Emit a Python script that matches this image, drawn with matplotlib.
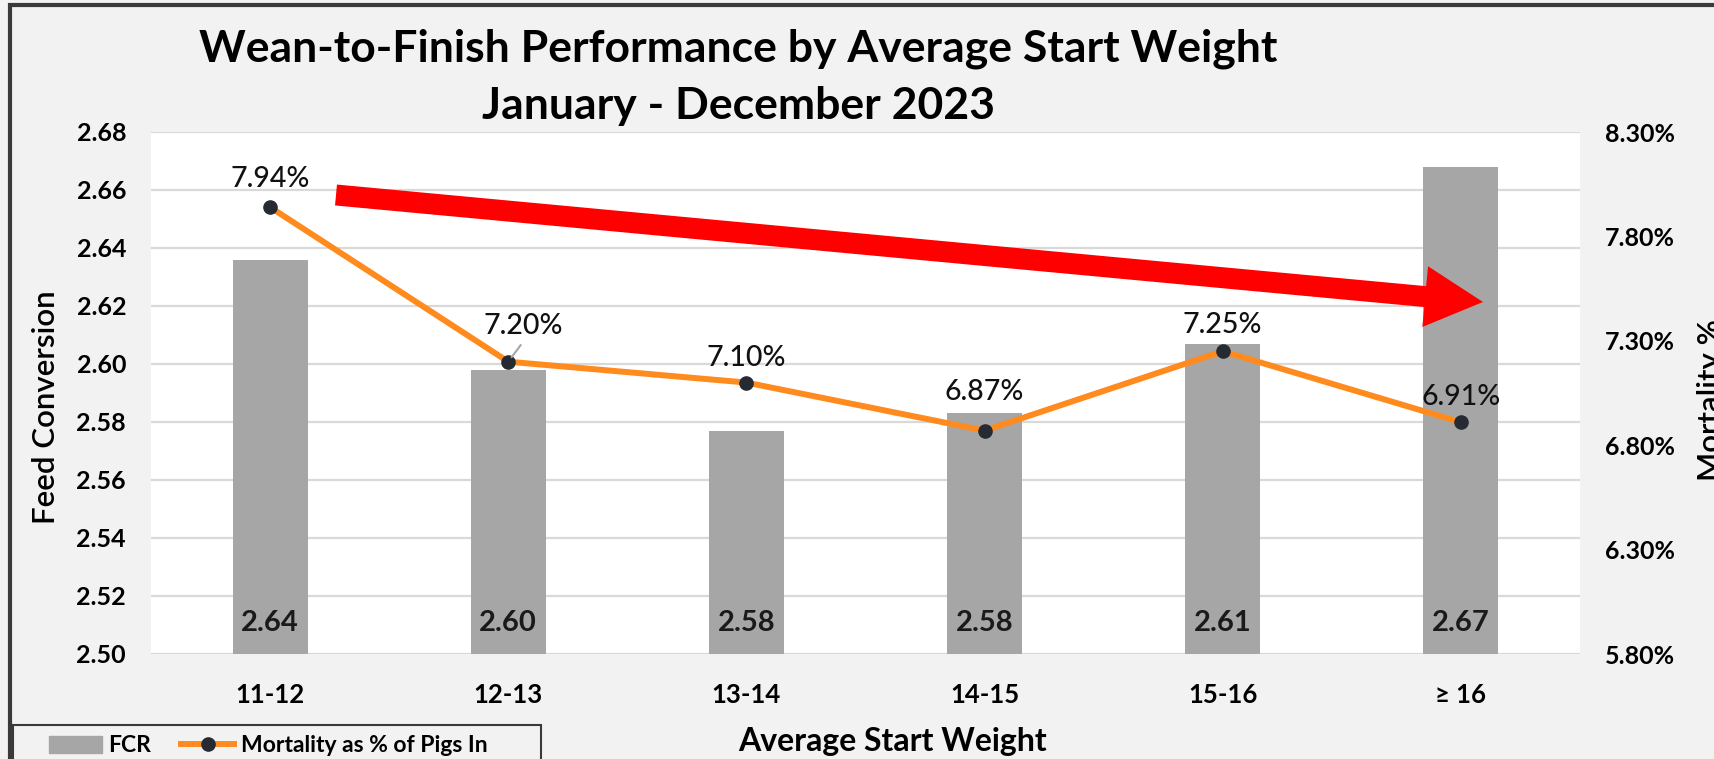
import matplotlib
matplotlib.use('Agg')
import matplotlib.pyplot as plt
from matplotlib.patches import Patch, Rectangle
from matplotlib.lines import Line2D
from matplotlib.ticker import FuncFormatter

plt.rcParams['font.family'] = ['Lato', 'DejaVu Sans']

# data
weights = ['11-12', '12-13', '13-14', '14-15', '15-16', '\u2265 16']
fcr = [2.636, 2.598, 2.577, 2.583, 2.607, 2.668]
fcr_labels = ['2.64', '2.60', '2.58', '2.58', '2.61', '2.67']
mortality = [7.94, 7.20, 7.10, 6.87, 7.25, 6.91]

W, H = 1714, 759
def fx(px):
    return px / W
def fy(py):
    return 1 - py / H

bg = '#f2f2f2'
bar_col = '#a6a6a6'
line_col = '#ff8b1e'
dark = '#262a33'

fig = plt.figure(figsize=(W / 100, H / 100), dpi=100, facecolor=bg)
ax = fig.add_axes([fx(151), fy(654), fx(1580) - fx(151), fy(132) - fy(654)])
ax.set_facecolor('white')

x = list(range(len(weights)))
ax.bar(x, fcr, width=0.315, color=bar_col, zorder=2)
ax.set_xlim(-0.5, len(weights) - 0.5)
ax.set_ylim(2.50, 2.68)
ax.set_yticks([2.50 + 0.02 * i for i in range(10)])
ax.yaxis.set_major_formatter(FuncFormatter(lambda v, p: '%.2f' % v))
ax.grid(axis='y', color='#d9d9d9', lw=1.6, zorder=0)
ax.set_axisbelow(True)
ax.set_xticks(x)
ax.set_xticklabels(weights, fontsize=18.5, fontweight='bold')
for lab in ax.get_yticklabels():
    lab.set_fontsize(18)
    lab.set_fontweight('bold')
ax.tick_params(axis='y', length=0, pad=18)
ax.tick_params(axis='x', length=0, pad=21)
for s in ax.spines.values():
    s.set_visible(False)

# bar value labels near the bottom
for xi, lab in zip(x, fcr_labels):
    ax.annotate(lab, (xi, 2.50), xytext=(0, 22), textcoords='offset points',
                ha='center', va='center', fontsize=21, fontweight='bold', color='#1a1a1a')

ax2 = ax.twinx()
ax2.set_ylim(5.80, 8.30)
ax2.set_yticks([5.80 + 0.5 * i for i in range(6)])
ax2.yaxis.set_major_formatter(FuncFormatter(lambda v, p: '%.2f%%' % v))
for lab in ax2.get_yticklabels():
    lab.set_fontsize(18)
    lab.set_fontweight('bold')
ax2.tick_params(axis='y', length=0, pad=18)
for s in ax2.spines.values():
    s.set_visible(False)

ax2.plot(x, mortality, color=line_col, lw=4.3, marker='o', markersize=9.5,
         markerfacecolor=dark, markeredgecolor=dark, zorder=3)

# mortality labels (offsets in pixels)
offs = [(0, 28), (15, 36), (0, 25), (0, 39), (0, 26), (0, 25)]
for xi, m, (dx, dy) in zip(x, mortality, offs):
    ax2.annotate('%.2f%%' % m, (xi, m), xytext=(dx * 0.72, dy * 0.72),
                 textcoords='offset points', ha='center', va='center',
                 fontsize=20.5, fontweight='medium', color='#111111')
# leader line for 12-13
ax2.annotate('', xy=(1, mortality[1]), xytext=(9, 12), textcoords='offset points',
             arrowprops=dict(arrowstyle='-', color='#a6a6a6', lw=1.5, shrinkA=0, shrinkB=4))

# red trend arrow
ax2.annotate('', xy=(1483, H - 302), xytext=(336, H - 195), xycoords='figure pixels',
             textcoords='figure pixels', annotation_clip=False,
             arrowprops=dict(arrowstyle='simple,head_length=41.8,head_width=43.9,tail_width=15.1',
                             mutation_scale=1, color='red', lw=0, shrinkA=0, shrinkB=0))

# axis titles
fig.text(fx(46), fy(407), 'Feed Conversion', rotation=90, ha='center', va='center',
         fontsize=22.5, fontweight='semibold')
fig.text(fx(1711), fy(400), 'Mortality %', rotation=90, ha='center', va='center',
         fontsize=22.5, fontweight='semibold')
fig.text(fx(893), fy(741), 'Average Start Weight', ha='center', va='center',
         fontsize=23, fontweight='bold')

fig.text(fx(738), fy(49), 'Wean-to-Finish Performance by Average Start Weight',
         ha='center', va='center', fontsize=32, fontweight='bold')
fig.text(fx(738), fy(106), 'January - December 2023',
         ha='center', va='center', fontsize=32, fontweight='bold')

# outer frame of the chart
fig.patches.append(Rectangle((fx(10), fy(820)), 1.2, fy(5) - fy(820), transform=fig.transFigure,
                             fill=False, edgecolor='#3a3a3a', lw=3))

# legend box
fig.patches.append(Rectangle((fx(13), fy(800)), fx(541) - fx(13), fy(725) - fy(800),
                             transform=fig.transFigure, facecolor=bg, edgecolor='#3a3a3a', lw=1.5))
handles = [Patch(color=bar_col),
           Line2D([], [], color=line_col, lw=4.3, marker='o', markersize=9.5,
                  markerfacecolor=dark, markeredgecolor=dark)]
fig.legend(handles, ['FCR', 'Mortality as % of Pigs In'], loc='center left',
           bbox_to_anchor=(fx(49), fy(746)), bbox_transform=fig.transFigure,
           ncol=2, frameon=False, borderpad=0, borderaxespad=0,
           handlelength=2.3, handletextpad=0.3, columnspacing=1.3,
           prop={'size': 16.5, 'weight': 'bold'})

fig.savefig('out.png', dpi=100, facecolor=bg)
